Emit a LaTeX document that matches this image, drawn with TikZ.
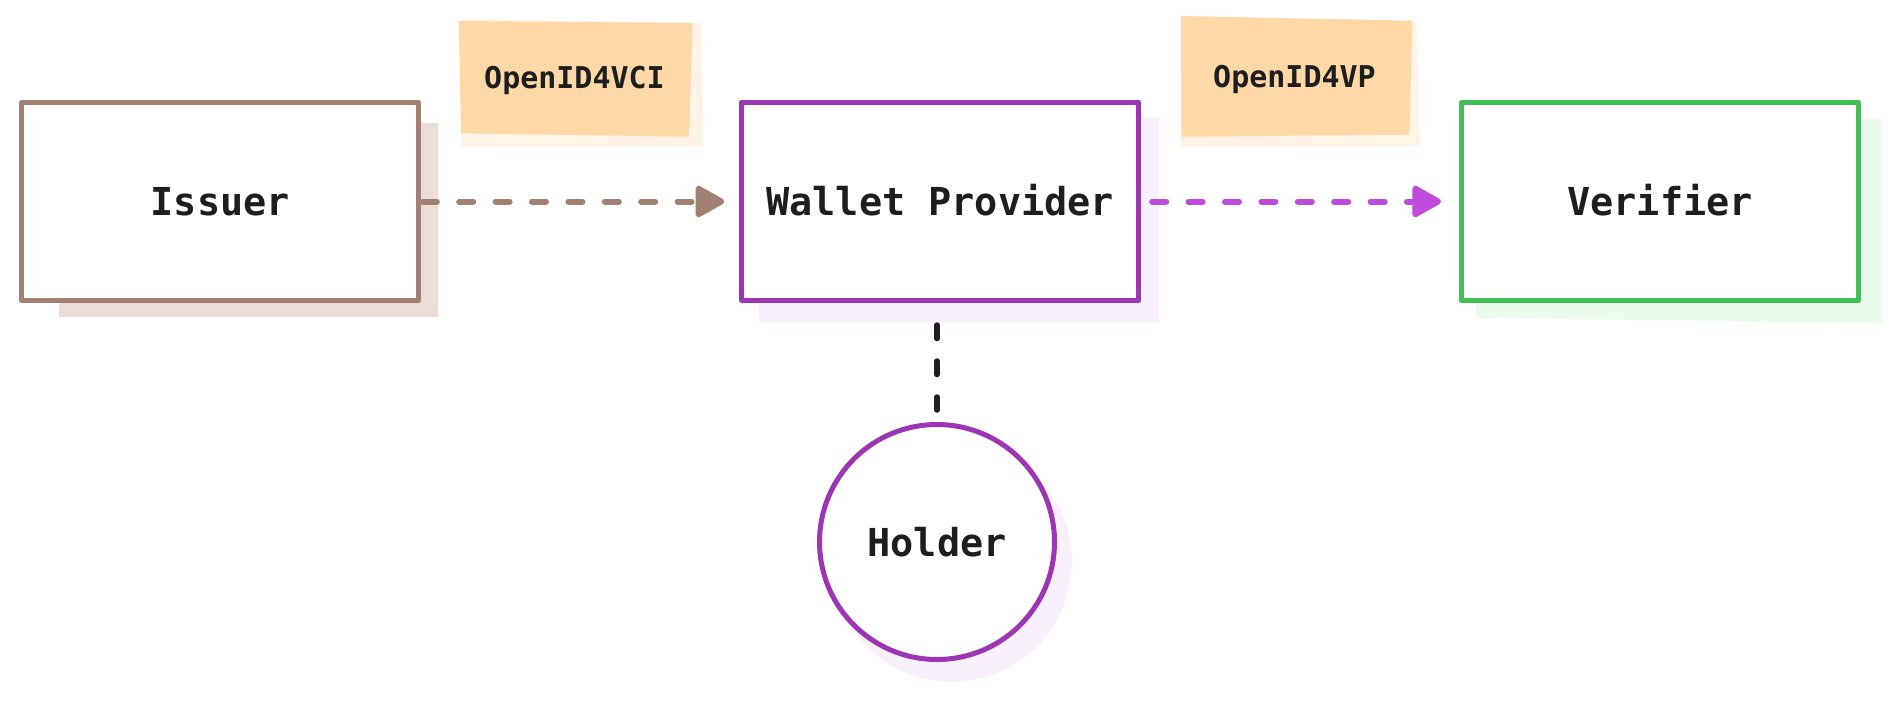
\documentclass[tikz,border=0pt]{standalone}
\usepackage{fontspec}
\setmonofont{DejaVu Sans Mono}
\usetikzlibrary{arrows.meta}
\definecolor{ink}{HTML}{1E1E1E}
\definecolor{brownline}{HTML}{A18072}
\definecolor{brownshadow}{HTML}{EADDD7}
\definecolor{purpleline}{HTML}{9C36B5}
\definecolor{purplearrow}{HTML}{BE4BDB}
\definecolor{purpleshadow}{HTML}{F8F0FC}
\definecolor{greenline}{HTML}{40C057}
\definecolor{greenshadow}{HTML}{EBFBEE}
\definecolor{notefill}{HTML}{FFD8A8}
\definecolor{noteshadow}{HTML}{FFF4E6}
\begin{document}
\begin{tikzpicture}[x=1pt,y=-1pt,
  mainfont/.style={font=\ttfamily\bfseries\fontsize{38.5}{40}\selectfont, text=ink},
  box/.style={mainfont, draw, line width=5pt, fill=white, minimum width=397pt,
    minimum height=198pt, inner sep=0pt, text height=28pt, text depth=0pt, line join=round},
  holderbox/.style={mainfont, circle, draw=purpleline, line width=5pt, fill=white,
    minimum size=235pt, inner sep=0pt, text height=28pt, text depth=0pt},
  notetext/.style={font=\ttfamily\bfseries\fontsize{30}{32}\selectfont, text=ink,
    inner sep=0pt, text height=22pt, text depth=0pt},
  flow/.style={line width=6pt, line cap=round, dash pattern=on 14pt off 22.4pt,
    -{Triangle[length=32pt,width=34pt,line join=round]}},
  link/.style={line width=5.5pt, line cap=round, dash pattern=on 13.5pt off 22.5pt, draw=ink}
]
\useasboundingbox (0,0) rectangle (1900,702);
\fill[white] (0,0) rectangle (1900,702);
% shadows
\fill[brownshadow] (58.8,123.3) rectangle (437.6,316.7);
\fill[purpleshadow] (758.8,117) rectangle (1159,321.7);
\fill[greenshadow] (1476,118) -- (1881.5,119) -- (1881.5,323.3) -- (1476,317.7) -- cycle;
\fill[purpleshadow] (951.7,561.7) circle (120);
% sticky notes
\fill[noteshadow] (462,19) -- (701,23) -- (703,145.7) -- (462,146.7) -- cycle;
\fill[notefill] (458.8,21) -- (692.7,23) -- (689,136.7) -- (461,133.3) -- cycle;
\node[notetext] (vci) at (574.5,77.5) {OpenID4VCI};
\fill[noteshadow] (1181,16.7) -- (1416.7,23.3) -- (1420,145.7) -- (1181,147.3) -- cycle;
\fill[notefill] (1181,16) -- (1412.4,20.7) -- (1409.4,134.7) -- (1181.5,136.7) -- cycle;
\node[notetext] (vp) at (1294.5,76.7) {OpenID4VP};
% main nodes
\node[box, draw=brownline] (issuer) at (220.3,201.5) {Issuer};
\node[box, draw=purpleline] (wallet) at (940.2,201.5) {Wallet Provider};
\node[box, draw=greenline] (verifier) at (1660,201.5) {Verifier};
\node[holderbox] (holder) at (937,542) {Holder};
% connectors
\draw[flow, draw=brownline, shorten <=1.5pt, shorten >=15pt] (issuer.east) -- (wallet.west);
\draw[flow, draw=purplearrow, shorten <=11pt, shorten >=18pt] (wallet.east) -- (verifier.west);
\draw[link, shorten <=22pt, shorten >=12pt] (holder.north |- wallet.south) -- (holder.north);
\end{tikzpicture}
\end{document}
